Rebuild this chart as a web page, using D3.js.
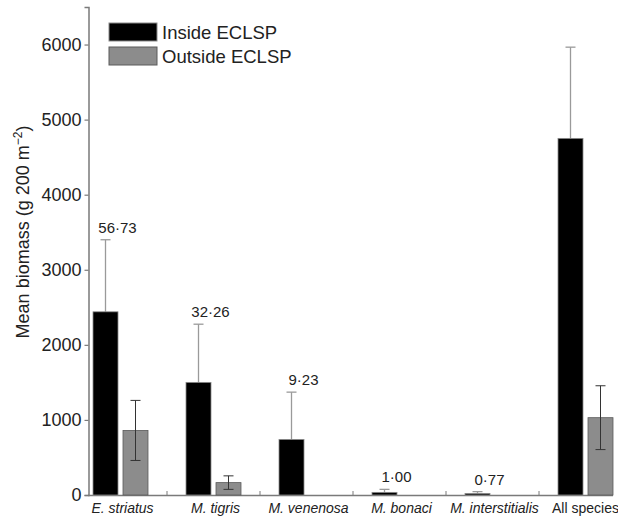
<!DOCTYPE html>
<html>
<head>
<meta charset="utf-8">
<script src="https://cdn.jsdelivr.net/npm/d3@7/dist/d3.min.js"></script>
<style>
  body { margin: 0; background: #fff; }
  svg { display: block; font-family: "Liberation Sans", Arial, Helvetica, sans-serif; }
</style>
</head>
<body>
<svg id="chart" width="618" height="518"></svg>
<script>
const categories = ["E. striatus", "M. tigris", "M. venenosa", "M. bonaci", "M. interstitialis", "All species"];
const insideMean = [2440, 1500, 740, 35, 20, 4750];
const insideSE   = [960, 775, 630, 40, 25, 1215];
const outsideMean = [860, 165, 0, 0, 0, 1030];
const outsideSE   = [400, 90, 0, 0, 0, 425];
const ratioLabels = ["56·73", "32·26", "9·23", "1·00", "0·77", ""];
const yTicks = [0, 1000, 2000, 3000, 4000, 5000, 6000];
const seriesNames = ["Inside ECLSP", "Outside ECLSP"];

const svg = d3.select("#chart");
const axisColor = "#7a7a7a";

const x = d3.scaleBand().domain(categories).range([74, 632]).padding(0);
const y = d3.scaleLinear().domain([0, 6500]).range([495, 7]);

const barW = 25;
const gap = 5;

// Y axis
const yAxis = svg.append("g")
  .attr("transform", "translate(88.5,0)")
  .call(d3.axisLeft(y).tickValues(yTicks).tickSize(4).tickPadding(3).tickFormat(d3.format("d")));
yAxis.select(".domain").attr("stroke", axisColor).attr("stroke-width", 1.5);
yAxis.selectAll(".tick line").attr("stroke", axisColor).attr("stroke-width", 1.2);
yAxis.selectAll(".tick text").attr("font-size", 18).attr("fill", "#222")
  .attr("font-family", "'Liberation Sans', Arial, sans-serif");

// X axis line
svg.append("line")
  .attr("x1", 88).attr("x2", 613).attr("y1", y(0) + 0.5).attr("y2", y(0) + 0.5)
  .attr("stroke", axisColor).attr("stroke-width", 1.5);

// Inner ticks between groups
svg.selectAll(".xtick").data(categories.slice(1)).enter().append("line")
  .attr("x1", d => x(d)).attr("x2", d => x(d))
  .attr("y1", y(0)).attr("y2", y(0) - 4)
  .attr("stroke", axisColor).attr("stroke-width", 1);

// X labels
svg.selectAll(".xlab").data(categories).enter().append("text")
  .attr("x", d => x(d) + x.bandwidth() / 2 + (d === "All species" ? 0 : 2))
  .attr("y", 513)
  .attr("text-anchor", "middle")
  .attr("font-size", 14)
  .attr("font-style", d => d === "All species" ? "normal" : "italic")
  .attr("fill", "#222")
  .text(d => d);

const center = d => x(d) + x.bandwidth() / 2;

const insideData = categories.map((c, i) => ({ c, m: insideMean[i], se: insideSE[i], lab: ratioLabels[i] }));
const outsideData = categories.map((c, i) => ({ c, m: outsideMean[i], se: outsideSE[i] }));

// inside error bars (behind bars, upper only visible)
const ie = svg.selectAll(".ie").data(insideData.filter(d => d.se > 0)).enter().append("g");
const ix = d => center(d.c) - gap / 2 - barW / 2;
ie.append("line")
  .attr("x1", ix).attr("x2", ix)
  .attr("y1", d => y(d.m)).attr("y2", d => y(d.m + d.se))
  .attr("stroke", "#9a9a9a").attr("stroke-width", 1.3);
ie.append("line")
  .attr("x1", d => ix(d) - 5).attr("x2", d => ix(d) + 5)
  .attr("y1", d => y(d.m + d.se)).attr("y2", d => y(d.m + d.se))
  .attr("stroke", "#9a9a9a").attr("stroke-width", 1.3);

svg.selectAll(".ib").data(insideData).enter().append("rect")
  .attr("x", d => center(d.c) - gap / 2 - barW)
  .attr("width", barW)
  .attr("y", d => y(d.m))
  .attr("height", d => y(0) - y(d.m))
  .attr("fill", "#000")
  .attr("stroke", "#8a8a8a").attr("stroke-width", 0.8);

// Outside bars
svg.selectAll(".ob").data(outsideData.filter(d => d.m > 0)).enter().append("rect")
  .attr("x", d => center(d.c) + gap / 2)
  .attr("width", barW)
  .attr("y", d => y(d.m))
  .attr("height", d => y(0) - y(d.m))
  .attr("fill", "#8c8c8c")
  .attr("stroke", "#5a5a5a").attr("stroke-width", 0.8);

const oe = svg.selectAll(".oe").data(outsideData.filter(d => d.se > 0)).enter().append("g");
const ox = d => center(d.c) + gap / 2 + barW / 2;
oe.append("line")
  .attr("x1", ox).attr("x2", ox)
  .attr("y1", d => y(d.m - d.se)).attr("y2", d => y(d.m + d.se))
  .attr("stroke", "#333").attr("stroke-width", 1);
oe.append("line")
  .attr("x1", d => ox(d) - 5).attr("x2", d => ox(d) + 5)
  .attr("y1", d => y(d.m + d.se)).attr("y2", d => y(d.m + d.se))
  .attr("stroke", "#333").attr("stroke-width", 1);
oe.append("line")
  .attr("x1", d => ox(d) - 5).attr("x2", d => ox(d) + 5)
  .attr("y1", d => y(d.m - d.se)).attr("y2", d => y(d.m - d.se))
  .attr("stroke", "#333").attr("stroke-width", 1);

// Ratio annotations
svg.selectAll(".ann").data(insideData.filter(d => d.lab)).enter().append("text")
  .attr("x", d => center(d.c) - 3)
  .attr("y", d => y(d.m + d.se) - 7)
  .attr("text-anchor", "middle")
  .attr("font-size", 15)
  .attr("fill", "#222")
  .text(d => d.lab);

// Legend
const legend = svg.append("g");
const legFill = ["#000", "#8c8c8c"];
const legStroke = ["#8a8a8a", "#5a5a5a"];
seriesNames.forEach((name, i) => {
  legend.append("rect")
    .attr("x", 109).attr("y", 23 + i * 24).attr("width", 48).attr("height", 18)
    .attr("fill", legFill[i]).attr("stroke", legStroke[i]).attr("stroke-width", 1);
  legend.append("text")
    .attr("x", 162).attr("y", 38.5 + i * 24)
    .attr("font-size", 18.5).attr("fill", "#222")
    .text(name);
});

// Y axis title
const yt = svg.append("text")
  .attr("transform", "translate(29,232) rotate(-90)")
  .attr("text-anchor", "middle")
  .attr("font-size", 18)
  .attr("fill", "#222");
yt.append("tspan").text("Mean biomass (g 200 m");
yt.append("tspan").attr("font-size", 12).attr("dy", -7).text("−2");
yt.append("tspan").attr("dy", 7).text(")");
</script>
</body>
</html>
